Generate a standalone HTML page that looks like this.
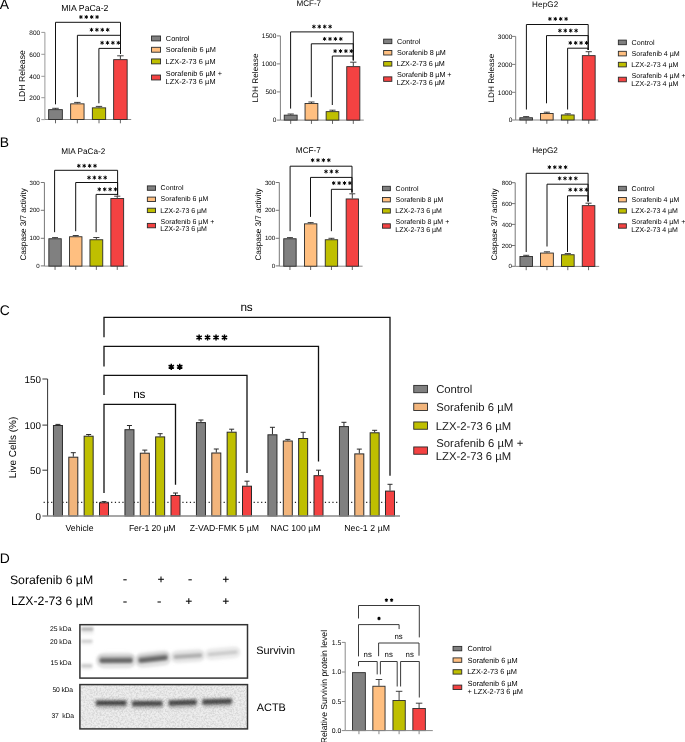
<!DOCTYPE html>
<html><head><meta charset="utf-8"><style>
html,body{margin:0;padding:0;background:#fff;width:685px;height:742px;overflow:hidden;}
svg{display:block;font-family:"Liberation Sans", sans-serif;will-change:transform;text-rendering:geometricPrecision;}
</style></head><body>
<svg width="685" height="742" viewBox="0 0 685 742">
<rect width="685" height="742" fill="#fff"/>
<defs>
<filter id="blur1" x="-50%" y="-300%" width="200%" height="700%"><feGaussianBlur stdDeviation="0.9"/></filter>
<filter id="blur2" x="-50%" y="-300%" width="200%" height="700%"><feGaussianBlur stdDeviation="1.5"/></filter>
<filter id="blur3" x="-50%" y="-300%" width="200%" height="700%"><feGaussianBlur stdDeviation="2.2"/></filter>
<filter id="noise" x="0" y="0" width="100%" height="100%"><feTurbulence type="fractalNoise" baseFrequency="0.55" numOctaves="2" seed="7"/><feColorMatrix type="matrix" values="0 0 0 0 0  0 0 0 0 0  0 0 0 0 0  3.2 0 0 0 -1.25"/></filter>
</defs>
<text x="-0.3" y="9.4" font-size="13.9" text-anchor="start" fill="#000">A</text>
<text x="-0.3" y="147.4" font-size="13.9" text-anchor="start" fill="#000">B</text>
<text x="-0.3" y="314.7" font-size="13.9" text-anchor="start" fill="#000">C</text>
<text x="-0.3" y="563.3" font-size="13.9" text-anchor="start" fill="#000">D</text>
<line x1="44.9" y1="32.4" x2="44.9" y2="119.5" stroke="#999" stroke-width="1"/>
<line x1="41.3" y1="119.6" x2="44.9" y2="119.6" stroke="#999" stroke-width="1"/>
<text x="36.52" y="121.93" font-size="6.5" text-anchor="start" fill="#000">0</text>
<line x1="41.3" y1="97.7" x2="44.9" y2="97.7" stroke="#999" stroke-width="1"/>
<text x="29.3" y="100.03" font-size="6.5" text-anchor="start" fill="#000">200</text>
<line x1="41.3" y1="76.3" x2="44.9" y2="76.3" stroke="#999" stroke-width="1"/>
<text x="29.3" y="78.63" font-size="6.5" text-anchor="start" fill="#000">400</text>
<line x1="41.3" y1="54.3" x2="44.9" y2="54.3" stroke="#999" stroke-width="1"/>
<text x="29.3" y="56.63" font-size="6.5" text-anchor="start" fill="#000">600</text>
<line x1="41.3" y1="32.4" x2="44.9" y2="32.4" stroke="#999" stroke-width="1"/>
<text x="29.3" y="34.73" font-size="6.5" text-anchor="start" fill="#000">800</text>
<line x1="44.9" y1="119.5" x2="131.2" y2="119.5" stroke="#8a8a8a" stroke-width="1"/>
<line x1="55.5" y1="119.5" x2="55.5" y2="123.3" stroke="#666" stroke-width="1"/>
<line x1="77.35" y1="119.5" x2="77.35" y2="123.3" stroke="#666" stroke-width="1"/>
<line x1="99" y1="119.5" x2="99" y2="123.3" stroke="#666" stroke-width="1"/>
<line x1="120.4" y1="119.5" x2="120.4" y2="123.3" stroke="#666" stroke-width="1"/>
<line x1="55.5" y1="109.2" x2="55.5" y2="108.3" stroke="#2a2a2a" stroke-width="0.9"/>
<line x1="52.22" y1="108.3" x2="58.78" y2="108.3" stroke="#2a2a2a" stroke-width="0.9"/>
<rect x="48.65" y="109.65" width="13.7" height="9.85" fill="#808080" stroke="#2a2a2a" stroke-width="0.9"/>
<line x1="77.35" y1="103.4" x2="77.35" y2="102.4" stroke="#2a2a2a" stroke-width="0.9"/>
<line x1="74.13" y1="102.4" x2="80.57" y2="102.4" stroke="#2a2a2a" stroke-width="0.9"/>
<rect x="70.65" y="103.85" width="13.4" height="15.65" fill="#FFBF80" stroke="#2a2a2a" stroke-width="0.9"/>
<line x1="99" y1="107.4" x2="99" y2="106.4" stroke="#2a2a2a" stroke-width="0.9"/>
<line x1="95.81" y1="106.4" x2="102.19" y2="106.4" stroke="#2a2a2a" stroke-width="0.9"/>
<rect x="92.35" y="107.85" width="13.3" height="11.65" fill="#BFBF00" stroke="#2a2a2a" stroke-width="0.9"/>
<line x1="120.4" y1="59.2" x2="120.4" y2="55.8" stroke="#2a2a2a" stroke-width="0.9"/>
<line x1="117.16" y1="55.8" x2="123.64" y2="55.8" stroke="#2a2a2a" stroke-width="0.9"/>
<rect x="113.65" y="59.65" width="13.5" height="59.85" fill="#F44242" stroke="#2a2a2a" stroke-width="0.9"/>
<path d="M55.5 104.3V22.3H120.5V53.8" stroke="#111" stroke-width="1" fill="none" stroke-linejoin="miter" stroke-linecap="butt"/>
<path d="M80.9 15.05L80.9 18.95M79.21 16.02L82.59 17.98M79.21 17.98L82.59 16.02" stroke="#000" stroke-width="0.95" fill="none"/>
<path d="M86.3 15.05L86.3 18.95M84.61 16.02L87.99 17.98M84.61 17.98L87.99 16.02" stroke="#000" stroke-width="0.95" fill="none"/>
<path d="M91.7 15.05L91.7 18.95M90.01 16.02L93.39 17.98M90.01 17.98L93.39 16.02" stroke="#000" stroke-width="0.95" fill="none"/>
<path d="M97.1 15.05L97.1 18.95M95.41 16.02L98.79 17.98M95.41 17.98L98.79 16.02" stroke="#000" stroke-width="0.95" fill="none"/>
<path d="M77.4 97.1V35.3H120.5V53.8" stroke="#111" stroke-width="1" fill="none" stroke-linejoin="miter" stroke-linecap="butt"/>
<path d="M91.5 27.85L91.5 31.75M89.81 28.82L93.19 30.78M89.81 30.78L93.19 28.82" stroke="#000" stroke-width="0.95" fill="none"/>
<path d="M96.9 27.85L96.9 31.75M95.21 28.82L98.59 30.78M95.21 30.78L98.59 28.82" stroke="#000" stroke-width="0.95" fill="none"/>
<path d="M102.3 27.85L102.3 31.75M100.61 28.82L103.99 30.78M100.61 30.78L103.99 28.82" stroke="#000" stroke-width="0.95" fill="none"/>
<path d="M107.7 27.85L107.7 31.75M106.01 28.82L109.39 30.78M106.01 30.78L109.39 28.82" stroke="#000" stroke-width="0.95" fill="none"/>
<path d="M98.9 103.3V48.4H120.5V53.8" stroke="#111" stroke-width="1" fill="none" stroke-linejoin="miter" stroke-linecap="butt"/>
<path d="M102.1 40.85L102.1 44.75M100.41 41.82L103.79 43.77M100.41 43.77L103.79 41.82" stroke="#000" stroke-width="0.95" fill="none"/>
<path d="M107.5 40.85L107.5 44.75M105.81 41.82L109.19 43.77M105.81 43.77L109.19 41.82" stroke="#000" stroke-width="0.95" fill="none"/>
<path d="M112.9 40.85L112.9 44.75M111.21 41.82L114.59 43.77M111.21 43.77L114.59 41.82" stroke="#000" stroke-width="0.95" fill="none"/>
<path d="M118.3 40.85L118.3 44.75M116.61 41.82L119.99 43.77M116.61 43.77L119.99 41.82" stroke="#000" stroke-width="0.95" fill="none"/>
<text x="61.3" y="10.9" font-size="8.7" text-anchor="start" fill="#000" textLength="47.14" lengthAdjust="spacing">MIA PaCa-2</text>
<text x="25.1" y="101.79" font-size="8.6" text-anchor="start" fill="#000" transform="rotate(-90 25.1 101.79)" textLength="51.55" lengthAdjust="spacing">LDH Release</text>
<line x1="280.4" y1="35.9" x2="280.4" y2="120.1" stroke="#808080" stroke-width="1"/>
<line x1="276.8" y1="120.1" x2="280.4" y2="120.1" stroke="#808080" stroke-width="1"/>
<text x="272.72" y="122.43" font-size="6.5" text-anchor="start" fill="#000">0</text>
<line x1="276.8" y1="91.9" x2="280.4" y2="91.9" stroke="#808080" stroke-width="1"/>
<text x="265.51" y="94.23" font-size="6.5" text-anchor="start" fill="#000">500</text>
<line x1="276.8" y1="63.9" x2="280.4" y2="63.9" stroke="#808080" stroke-width="1"/>
<text x="261.87" y="66.23" font-size="6.5" text-anchor="start" fill="#000">1000</text>
<line x1="276.8" y1="35.9" x2="280.4" y2="35.9" stroke="#808080" stroke-width="1"/>
<text x="261.87" y="38.23" font-size="6.5" text-anchor="start" fill="#000">1500</text>
<line x1="280.4" y1="120.1" x2="363.8" y2="120.1" stroke="#8a8a8a" stroke-width="1"/>
<line x1="290.7" y1="120.1" x2="290.7" y2="123.9" stroke="#666" stroke-width="1"/>
<line x1="311.45" y1="120.1" x2="311.45" y2="123.9" stroke="#666" stroke-width="1"/>
<line x1="332.5" y1="120.1" x2="332.5" y2="123.9" stroke="#666" stroke-width="1"/>
<line x1="353.3" y1="120.1" x2="353.3" y2="123.9" stroke="#666" stroke-width="1"/>
<line x1="290.7" y1="114.7" x2="290.7" y2="114" stroke="#2a2a2a" stroke-width="0.9"/>
<line x1="287.6" y1="114" x2="293.81" y2="114" stroke="#2a2a2a" stroke-width="0.9"/>
<rect x="284.25" y="115.15" width="12.9" height="4.95" fill="#808080" stroke="#2a2a2a" stroke-width="0.9"/>
<line x1="311.45" y1="103" x2="311.45" y2="102" stroke="#2a2a2a" stroke-width="0.9"/>
<line x1="308.37" y1="102" x2="314.53" y2="102" stroke="#2a2a2a" stroke-width="0.9"/>
<rect x="305.05" y="103.45" width="12.8" height="16.65" fill="#FFBF80" stroke="#2a2a2a" stroke-width="0.9"/>
<line x1="332.5" y1="111.2" x2="332.5" y2="110.2" stroke="#2a2a2a" stroke-width="0.9"/>
<line x1="329.44" y1="110.2" x2="335.56" y2="110.2" stroke="#2a2a2a" stroke-width="0.9"/>
<rect x="326.15" y="111.65" width="12.7" height="8.45" fill="#BFBF00" stroke="#2a2a2a" stroke-width="0.9"/>
<line x1="353.3" y1="66.2" x2="353.3" y2="62.2" stroke="#2a2a2a" stroke-width="0.9"/>
<line x1="350.15" y1="62.2" x2="356.45" y2="62.2" stroke="#2a2a2a" stroke-width="0.9"/>
<rect x="346.75" y="66.65" width="13.1" height="53.45" fill="#F44242" stroke="#2a2a2a" stroke-width="0.9"/>
<path d="M290.6 108.6V31.9H353.3V60.4" stroke="#111" stroke-width="1" fill="none" stroke-linejoin="miter" stroke-linecap="butt"/>
<path d="M313.9 24.65L313.9 28.55M312.21 25.62L315.59 27.58M312.21 27.58L315.59 25.62" stroke="#000" stroke-width="0.95" fill="none"/>
<path d="M319.3 24.65L319.3 28.55M317.61 25.62L320.99 27.58M317.61 27.58L320.99 25.62" stroke="#000" stroke-width="0.95" fill="none"/>
<path d="M324.7 24.65L324.7 28.55M323.01 25.62L326.39 27.58M323.01 27.58L326.39 25.62" stroke="#000" stroke-width="0.95" fill="none"/>
<path d="M330.1 24.65L330.1 28.55M328.41 25.62L331.79 27.58M328.41 27.58L331.79 25.62" stroke="#000" stroke-width="0.95" fill="none"/>
<path d="M311.3 97.2V43.8H353.3V60.4" stroke="#111" stroke-width="1" fill="none" stroke-linejoin="miter" stroke-linecap="butt"/>
<path d="M324.6 36.95L324.6 40.85M322.91 37.92L326.29 39.88M322.91 39.88L326.29 37.92" stroke="#000" stroke-width="0.95" fill="none"/>
<path d="M330 36.95L330 40.85M328.31 37.92L331.69 39.88M328.31 39.88L331.69 37.92" stroke="#000" stroke-width="0.95" fill="none"/>
<path d="M335.4 36.95L335.4 40.85M333.71 37.92L337.09 39.88M333.71 39.88L337.09 37.92" stroke="#000" stroke-width="0.95" fill="none"/>
<path d="M340.8 36.95L340.8 40.85M339.11 37.92L342.49 39.88M339.11 39.88L342.49 37.92" stroke="#000" stroke-width="0.95" fill="none"/>
<path d="M332.3 105V56H353.3V60.4" stroke="#111" stroke-width="1" fill="none" stroke-linejoin="miter" stroke-linecap="butt"/>
<path d="M335.1 49.15L335.1 53.05M333.41 50.12L336.79 52.08M333.41 52.08L336.79 50.12" stroke="#000" stroke-width="0.95" fill="none"/>
<path d="M340.5 49.15L340.5 53.05M338.81 50.12L342.19 52.08M338.81 52.08L342.19 50.12" stroke="#000" stroke-width="0.95" fill="none"/>
<path d="M345.9 49.15L345.9 53.05M344.21 50.12L347.59 52.08M344.21 52.08L347.59 50.12" stroke="#000" stroke-width="0.95" fill="none"/>
<path d="M351.3 49.15L351.3 53.05M349.61 50.12L352.99 52.08M349.61 52.08L352.99 50.12" stroke="#000" stroke-width="0.95" fill="none"/>
<text x="296.45" y="6" font-size="8.1" text-anchor="start" fill="#000" textLength="24.66" lengthAdjust="spacing">MCF-7</text>
<text x="258.4" y="102.55" font-size="8.1" text-anchor="start" fill="#000" transform="rotate(-90 258.4 102.55)" textLength="48.99" lengthAdjust="spacing">LDH Release</text>
<line x1="515.7" y1="36.4" x2="515.7" y2="120" stroke="#808080" stroke-width="1"/>
<line x1="512.1" y1="120" x2="515.7" y2="120" stroke="#808080" stroke-width="1"/>
<text x="508.72" y="122.33" font-size="6.5" text-anchor="start" fill="#000">0</text>
<line x1="512.1" y1="92.3" x2="515.7" y2="92.3" stroke="#808080" stroke-width="1"/>
<text x="497.87" y="94.63" font-size="6.5" text-anchor="start" fill="#000">1000</text>
<line x1="512.1" y1="64.4" x2="515.7" y2="64.4" stroke="#808080" stroke-width="1"/>
<text x="497.87" y="66.73" font-size="6.5" text-anchor="start" fill="#000">2000</text>
<line x1="512.1" y1="36.4" x2="515.7" y2="36.4" stroke="#808080" stroke-width="1"/>
<text x="497.87" y="38.73" font-size="6.5" text-anchor="start" fill="#000">3000</text>
<line x1="515.7" y1="120" x2="598.2" y2="120" stroke="#8a8a8a" stroke-width="1"/>
<line x1="526.15" y1="120" x2="526.15" y2="123.8" stroke="#666" stroke-width="1"/>
<line x1="546.85" y1="120" x2="546.85" y2="123.8" stroke="#666" stroke-width="1"/>
<line x1="567.75" y1="120" x2="567.75" y2="123.8" stroke="#666" stroke-width="1"/>
<line x1="588.75" y1="120" x2="588.75" y2="123.8" stroke="#666" stroke-width="1"/>
<line x1="526.15" y1="117.3" x2="526.15" y2="116.6" stroke="#2a2a2a" stroke-width="0.9"/>
<line x1="523.11" y1="116.6" x2="529.19" y2="116.6" stroke="#2a2a2a" stroke-width="0.9"/>
<rect x="519.85" y="117.75" width="12.6" height="2.25" fill="#808080" stroke="#2a2a2a" stroke-width="0.9"/>
<line x1="546.85" y1="113" x2="546.85" y2="112.2" stroke="#2a2a2a" stroke-width="0.9"/>
<line x1="543.81" y1="112.2" x2="549.89" y2="112.2" stroke="#2a2a2a" stroke-width="0.9"/>
<rect x="540.55" y="113.45" width="12.6" height="6.55" fill="#FFBF80" stroke="#2a2a2a" stroke-width="0.9"/>
<line x1="567.75" y1="114.5" x2="567.75" y2="113.8" stroke="#2a2a2a" stroke-width="0.9"/>
<line x1="564.67" y1="113.8" x2="570.83" y2="113.8" stroke="#2a2a2a" stroke-width="0.9"/>
<rect x="561.35" y="114.95" width="12.8" height="5.05" fill="#BFBF00" stroke="#2a2a2a" stroke-width="0.9"/>
<line x1="588.75" y1="55.2" x2="588.75" y2="51.7" stroke="#2a2a2a" stroke-width="0.9"/>
<line x1="585.67" y1="51.7" x2="591.83" y2="51.7" stroke="#2a2a2a" stroke-width="0.9"/>
<rect x="582.35" y="55.65" width="12.8" height="64.35" fill="#F44242" stroke="#2a2a2a" stroke-width="0.9"/>
<path d="M526.4 109.5V24.5H588.2V50" stroke="#111" stroke-width="1" fill="none" stroke-linejoin="miter" stroke-linecap="butt"/>
<path d="M549.9 16.95L549.9 20.85M548.21 17.92L551.59 19.88M548.21 19.88L551.59 17.92" stroke="#000" stroke-width="0.95" fill="none"/>
<path d="M555.3 16.95L555.3 20.85M553.61 17.92L556.99 19.88M553.61 19.88L556.99 17.92" stroke="#000" stroke-width="0.95" fill="none"/>
<path d="M560.7 16.95L560.7 20.85M559.01 17.92L562.39 19.88M559.01 19.88L562.39 17.92" stroke="#000" stroke-width="0.95" fill="none"/>
<path d="M566.1 16.95L566.1 20.85M564.41 17.92L567.79 19.88M564.41 19.88L567.79 17.92" stroke="#000" stroke-width="0.95" fill="none"/>
<path d="M546.5 103.3V35.6H588.2V50" stroke="#111" stroke-width="1" fill="none" stroke-linejoin="miter" stroke-linecap="butt"/>
<path d="M559.9 28.65L559.9 32.55M558.21 29.62L561.59 31.58M558.21 31.58L561.59 29.62" stroke="#000" stroke-width="0.95" fill="none"/>
<path d="M565.3 28.65L565.3 32.55M563.61 29.62L566.99 31.58M563.61 31.58L566.99 29.62" stroke="#000" stroke-width="0.95" fill="none"/>
<path d="M570.7 28.65L570.7 32.55M569.01 29.62L572.39 31.58M569.01 31.58L572.39 29.62" stroke="#000" stroke-width="0.95" fill="none"/>
<path d="M576.1 28.65L576.1 32.55M574.41 29.62L577.79 31.58M574.41 31.58L577.79 29.62" stroke="#000" stroke-width="0.95" fill="none"/>
<path d="M567.6 109.5V48.2H588.2V50" stroke="#111" stroke-width="1" fill="none" stroke-linejoin="miter" stroke-linecap="butt"/>
<path d="M570.3 40.95L570.3 44.85M568.61 41.92L571.99 43.88M568.61 43.88L571.99 41.92" stroke="#000" stroke-width="0.95" fill="none"/>
<path d="M575.7 40.95L575.7 44.85M574.01 41.92L577.39 43.88M574.01 43.88L577.39 41.92" stroke="#000" stroke-width="0.95" fill="none"/>
<path d="M581.1 40.95L581.1 44.85M579.41 41.92L582.79 43.88M579.41 43.88L582.79 41.92" stroke="#000" stroke-width="0.95" fill="none"/>
<path d="M586.5 40.95L586.5 44.85M584.81 41.92L588.19 43.88M584.81 43.88L588.19 41.92" stroke="#000" stroke-width="0.95" fill="none"/>
<text x="532.05" y="6.6" font-size="8.1" text-anchor="start" fill="#000" textLength="26.18" lengthAdjust="spacing">HepG2</text>
<text x="494.5" y="102.55" font-size="8.1" text-anchor="start" fill="#000" transform="rotate(-90 494.5 102.55)" textLength="48.79" lengthAdjust="spacing">LDH Release</text>
<rect x="151.55" y="36" width="9" height="4.9" fill="#808080" stroke="#2a2a2a" stroke-width="0.9"/>
<rect x="151.55" y="47.3" width="9" height="4.9" fill="#FFBF80" stroke="#2a2a2a" stroke-width="0.9"/>
<rect x="151.55" y="58.95" width="9" height="4.9" fill="#BFBF00" stroke="#2a2a2a" stroke-width="0.9"/>
<rect x="151.55" y="75.05" width="9" height="4.9" fill="#F44242" stroke="#2a2a2a" stroke-width="0.9"/>
<text x="165.83" y="40.9" font-size="7.35" text-anchor="start" fill="#000" textLength="23.67" lengthAdjust="spacing">Control</text>
<text x="165.87" y="52.2" font-size="7.35" text-anchor="start" fill="#000" textLength="50.03" lengthAdjust="spacing">Sorafenib 6 µM</text>
<text x="165.61" y="63.9" font-size="7.35" text-anchor="start" fill="#000" textLength="49.91" lengthAdjust="spacing">LZX-2-73 6 µM</text>
<text x="165.87" y="75.7" font-size="7.35" text-anchor="start" fill="#000" textLength="56.19" lengthAdjust="spacing">Sorafenib 6 µM +</text>
<text x="165.61" y="83.6" font-size="7.35" text-anchor="start" fill="#000" textLength="49.91" lengthAdjust="spacing">LZX-2-73 6 µM</text>
<rect x="383.65" y="39.15" width="8.2" height="4.5" fill="#808080" stroke="#2a2a2a" stroke-width="0.9"/>
<rect x="383.65" y="50.5" width="8.2" height="4.5" fill="#FFBF80" stroke="#2a2a2a" stroke-width="0.9"/>
<rect x="383.65" y="61.6" width="8.2" height="4.5" fill="#BFBF00" stroke="#2a2a2a" stroke-width="0.9"/>
<rect x="383.65" y="76.85" width="8.2" height="4.5" fill="#F44242" stroke="#2a2a2a" stroke-width="0.9"/>
<text x="396.94" y="43.6" font-size="7.2" text-anchor="start" fill="#000" textLength="23.46" lengthAdjust="spacing">Control</text>
<text x="396.98" y="55" font-size="7.2" text-anchor="start" fill="#000" textLength="48.81" lengthAdjust="spacing">Sorafenib 8 µM</text>
<text x="396.72" y="66.1" font-size="7.2" text-anchor="start" fill="#000" textLength="48.09" lengthAdjust="spacing">LZX-2-73 6 µM</text>
<text x="396.98" y="77.2" font-size="7.2" text-anchor="start" fill="#000" textLength="54.57" lengthAdjust="spacing">Sorafenib 8 µM +</text>
<text x="396.72" y="85.2" font-size="7.2" text-anchor="start" fill="#000" textLength="48.09" lengthAdjust="spacing">LZX-2-73 6 µM</text>
<rect x="618.35" y="40.1" width="8" height="4.6" fill="#808080" stroke="#2a2a2a" stroke-width="0.9"/>
<rect x="618.35" y="51.3" width="8" height="4.6" fill="#FFBF80" stroke="#2a2a2a" stroke-width="0.9"/>
<rect x="618.35" y="62.3" width="8" height="4.6" fill="#BFBF00" stroke="#2a2a2a" stroke-width="0.9"/>
<rect x="618.35" y="77.2" width="8" height="4.6" fill="#F44242" stroke="#2a2a2a" stroke-width="0.9"/>
<text x="631.54" y="44.7" font-size="7.1" text-anchor="start" fill="#000" textLength="23.04" lengthAdjust="spacing">Control</text>
<text x="631.58" y="55.7" font-size="7.1" text-anchor="start" fill="#000" textLength="48.2" lengthAdjust="spacing">Sorafenib 4 µM</text>
<text x="631.33" y="66.7" font-size="7.1" text-anchor="start" fill="#000" textLength="47.07" lengthAdjust="spacing">LZX-2-73 4 µM</text>
<text x="631.58" y="77.7" font-size="7.1" text-anchor="start" fill="#000" textLength="54.07" lengthAdjust="spacing">Sorafenib 4 µM +</text>
<text x="631.33" y="85.6" font-size="7.1" text-anchor="start" fill="#000" textLength="47.07" lengthAdjust="spacing">LZX-2-73 4 µM</text>
<line x1="44.4" y1="182.5" x2="44.4" y2="266.1" stroke="#777" stroke-width="1"/>
<line x1="40.8" y1="265.9" x2="44.4" y2="265.9" stroke="#777" stroke-width="1"/>
<text x="36.33" y="268.09" font-size="6.1" text-anchor="start" fill="#000">0</text>
<line x1="40.8" y1="238.3" x2="44.4" y2="238.3" stroke="#777" stroke-width="1"/>
<text x="29.56" y="240.49" font-size="6.1" text-anchor="start" fill="#000">100</text>
<line x1="40.8" y1="210.3" x2="44.4" y2="210.3" stroke="#777" stroke-width="1"/>
<text x="29.56" y="212.49" font-size="6.1" text-anchor="start" fill="#000">200</text>
<line x1="40.8" y1="182.5" x2="44.4" y2="182.5" stroke="#777" stroke-width="1"/>
<text x="29.56" y="184.69" font-size="6.1" text-anchor="start" fill="#000">300</text>
<line x1="44.4" y1="266.1" x2="127.8" y2="266.1" stroke="#8a8a8a" stroke-width="1"/>
<line x1="55.05" y1="266.1" x2="55.05" y2="269.9" stroke="#666" stroke-width="1"/>
<line x1="75.75" y1="266.1" x2="75.75" y2="269.9" stroke="#666" stroke-width="1"/>
<line x1="96.35" y1="266.1" x2="96.35" y2="269.9" stroke="#666" stroke-width="1"/>
<line x1="117.25" y1="266.1" x2="117.25" y2="269.9" stroke="#666" stroke-width="1"/>
<line x1="55.05" y1="238.3" x2="55.05" y2="237.6" stroke="#2a2a2a" stroke-width="0.9"/>
<line x1="52.06" y1="237.6" x2="58.04" y2="237.6" stroke="#2a2a2a" stroke-width="0.9"/>
<rect x="48.85" y="238.75" width="12.4" height="27.35" fill="#808080" stroke="#2a2a2a" stroke-width="0.9"/>
<line x1="75.75" y1="236.3" x2="75.75" y2="235.5" stroke="#2a2a2a" stroke-width="0.9"/>
<line x1="72.76" y1="235.5" x2="78.74" y2="235.5" stroke="#2a2a2a" stroke-width="0.9"/>
<rect x="69.55" y="236.75" width="12.4" height="29.35" fill="#FFBF80" stroke="#2a2a2a" stroke-width="0.9"/>
<line x1="96.35" y1="239.3" x2="96.35" y2="237.5" stroke="#2a2a2a" stroke-width="0.9"/>
<line x1="93.27" y1="237.5" x2="99.43" y2="237.5" stroke="#2a2a2a" stroke-width="0.9"/>
<rect x="89.95" y="239.75" width="12.8" height="26.35" fill="#BFBF00" stroke="#2a2a2a" stroke-width="0.9"/>
<line x1="117.25" y1="198.1" x2="117.25" y2="196.2" stroke="#2a2a2a" stroke-width="0.9"/>
<line x1="114.17" y1="196.2" x2="120.33" y2="196.2" stroke="#2a2a2a" stroke-width="0.9"/>
<rect x="110.85" y="198.55" width="12.8" height="67.55" fill="#F44242" stroke="#2a2a2a" stroke-width="0.9"/>
<path d="M54.6 232.2V170.3H117.6V195.2" stroke="#111" stroke-width="1" fill="none" stroke-linejoin="miter" stroke-linecap="butt"/>
<path d="M78.8 163.85L78.8 167.75M77.11 164.83L80.49 166.78M77.11 166.78L80.49 164.83" stroke="#000" stroke-width="0.95" fill="none"/>
<path d="M84.2 163.85L84.2 167.75M82.51 164.83L85.89 166.78M82.51 166.78L85.89 164.83" stroke="#000" stroke-width="0.95" fill="none"/>
<path d="M89.6 163.85L89.6 167.75M87.91 164.83L91.29 166.78M87.91 166.78L91.29 164.83" stroke="#000" stroke-width="0.95" fill="none"/>
<path d="M95 163.85L95 167.75M93.31 164.83L96.69 166.78M93.31 166.78L96.69 164.83" stroke="#000" stroke-width="0.95" fill="none"/>
<path d="M75.7 231.2V182.5H117.6V195.2" stroke="#111" stroke-width="1" fill="none" stroke-linejoin="miter" stroke-linecap="butt"/>
<path d="M89 175.65L89 179.55M87.31 176.62L90.69 178.57M87.31 178.57L90.69 176.62" stroke="#000" stroke-width="0.95" fill="none"/>
<path d="M94.4 175.65L94.4 179.55M92.71 176.62L96.09 178.57M92.71 178.57L96.09 176.62" stroke="#000" stroke-width="0.95" fill="none"/>
<path d="M99.8 175.65L99.8 179.55M98.11 176.62L101.49 178.57M98.11 178.57L101.49 176.62" stroke="#000" stroke-width="0.95" fill="none"/>
<path d="M105.2 175.65L105.2 179.55M103.51 176.62L106.89 178.57M103.51 178.57L106.89 176.62" stroke="#000" stroke-width="0.95" fill="none"/>
<path d="M96.1 232.2V194.4H117.6V195.2" stroke="#111" stroke-width="1" fill="none" stroke-linejoin="miter" stroke-linecap="butt"/>
<path d="M99.3 187.35L99.3 191.25M97.61 188.33L100.99 190.28M97.61 190.28L100.99 188.33" stroke="#000" stroke-width="0.95" fill="none"/>
<path d="M104.7 187.35L104.7 191.25M103.01 188.33L106.39 190.28M103.01 190.28L106.39 188.33" stroke="#000" stroke-width="0.95" fill="none"/>
<path d="M110.1 187.35L110.1 191.25M108.41 188.33L111.79 190.28M108.41 190.28L111.79 188.33" stroke="#000" stroke-width="0.95" fill="none"/>
<path d="M115.5 187.35L115.5 191.25M113.81 188.33L117.19 190.28M113.81 190.28L117.19 188.33" stroke="#000" stroke-width="0.95" fill="none"/>
<text x="61.14" y="153.8" font-size="8.2" text-anchor="start" fill="#000" textLength="44.18" lengthAdjust="spacing">MIA PaCa-2</text>
<text x="26.1" y="260.51" font-size="8.15" text-anchor="start" fill="#000" transform="rotate(-90 26.1 260.51)" textLength="72.4" lengthAdjust="spacing">Caspase 3/7 activity</text>
<line x1="279.3" y1="182.5" x2="279.3" y2="266.2" stroke="#777" stroke-width="1"/>
<line x1="275.7" y1="265.9" x2="279.3" y2="265.9" stroke="#777" stroke-width="1"/>
<text x="271.73" y="268.09" font-size="6.1" text-anchor="start" fill="#000">0</text>
<line x1="275.7" y1="238.3" x2="279.3" y2="238.3" stroke="#777" stroke-width="1"/>
<text x="264.96" y="240.49" font-size="6.1" text-anchor="start" fill="#000">100</text>
<line x1="275.7" y1="210.3" x2="279.3" y2="210.3" stroke="#777" stroke-width="1"/>
<text x="264.96" y="212.49" font-size="6.1" text-anchor="start" fill="#000">200</text>
<line x1="275.7" y1="182.5" x2="279.3" y2="182.5" stroke="#777" stroke-width="1"/>
<text x="264.96" y="184.69" font-size="6.1" text-anchor="start" fill="#000">300</text>
<line x1="279.3" y1="266.2" x2="362.6" y2="266.2" stroke="#8a8a8a" stroke-width="1"/>
<line x1="289.95" y1="266.2" x2="289.95" y2="270" stroke="#666" stroke-width="1"/>
<line x1="310.65" y1="266.2" x2="310.65" y2="270" stroke="#666" stroke-width="1"/>
<line x1="331.45" y1="266.2" x2="331.45" y2="270" stroke="#666" stroke-width="1"/>
<line x1="352.3" y1="266.2" x2="352.3" y2="270" stroke="#666" stroke-width="1"/>
<line x1="289.95" y1="238.3" x2="289.95" y2="237.6" stroke="#2a2a2a" stroke-width="0.9"/>
<line x1="286.96" y1="237.6" x2="292.94" y2="237.6" stroke="#2a2a2a" stroke-width="0.9"/>
<rect x="283.75" y="238.75" width="12.4" height="27.45" fill="#808080" stroke="#2a2a2a" stroke-width="0.9"/>
<line x1="310.65" y1="223.4" x2="310.65" y2="222.6" stroke="#2a2a2a" stroke-width="0.9"/>
<line x1="307.66" y1="222.6" x2="313.64" y2="222.6" stroke="#2a2a2a" stroke-width="0.9"/>
<rect x="304.45" y="223.85" width="12.4" height="42.35" fill="#FFBF80" stroke="#2a2a2a" stroke-width="0.9"/>
<line x1="331.45" y1="239.3" x2="331.45" y2="238.3" stroke="#2a2a2a" stroke-width="0.9"/>
<line x1="328.46" y1="238.3" x2="334.44" y2="238.3" stroke="#2a2a2a" stroke-width="0.9"/>
<rect x="325.25" y="239.75" width="12.4" height="26.45" fill="#BFBF00" stroke="#2a2a2a" stroke-width="0.9"/>
<line x1="352.3" y1="198.5" x2="352.3" y2="193.8" stroke="#2a2a2a" stroke-width="0.9"/>
<line x1="349.33" y1="193.8" x2="355.27" y2="193.8" stroke="#2a2a2a" stroke-width="0.9"/>
<rect x="346.15" y="198.95" width="12.3" height="67.25" fill="#F44242" stroke="#2a2a2a" stroke-width="0.9"/>
<path d="M290.1 231.2V166.2H352V192.5" stroke="#111" stroke-width="1" fill="none" stroke-linejoin="miter" stroke-linecap="butt"/>
<path d="M312.6 158.25L312.6 162.15M310.91 159.22L314.29 161.17M310.91 161.17L314.29 159.22" stroke="#000" stroke-width="0.95" fill="none"/>
<path d="M318 158.25L318 162.15M316.31 159.22L319.69 161.17M316.31 161.17L319.69 159.22" stroke="#000" stroke-width="0.95" fill="none"/>
<path d="M323.4 158.25L323.4 162.15M321.71 159.22L325.09 161.17M321.71 161.17L325.09 159.22" stroke="#000" stroke-width="0.95" fill="none"/>
<path d="M328.8 158.25L328.8 162.15M327.11 159.22L330.49 161.17M327.11 161.17L330.49 159.22" stroke="#000" stroke-width="0.95" fill="none"/>
<path d="M310.5 216.9V177.4H352V192.5" stroke="#111" stroke-width="1" fill="none" stroke-linejoin="miter" stroke-linecap="butt"/>
<path d="M326 169.55L326 173.45M324.31 170.53L327.69 172.47M324.31 172.47L327.69 170.53" stroke="#000" stroke-width="0.95" fill="none"/>
<path d="M331.4 169.55L331.4 173.45M329.71 170.53L333.09 172.47M329.71 172.47L333.09 170.53" stroke="#000" stroke-width="0.95" fill="none"/>
<path d="M336.8 169.55L336.8 173.45M335.11 170.53L338.49 172.47M335.11 172.47L338.49 170.53" stroke="#000" stroke-width="0.95" fill="none"/>
<path d="M331.4 231.2V189.3H352V192.5" stroke="#111" stroke-width="1" fill="none" stroke-linejoin="miter" stroke-linecap="butt"/>
<path d="M333.7 181.15L333.7 185.05M332.01 182.12L335.39 184.07M332.01 184.07L335.39 182.12" stroke="#000" stroke-width="0.95" fill="none"/>
<path d="M339.1 181.15L339.1 185.05M337.41 182.12L340.79 184.07M337.41 184.07L340.79 182.12" stroke="#000" stroke-width="0.95" fill="none"/>
<path d="M344.5 181.15L344.5 185.05M342.81 182.12L346.19 184.07M342.81 184.07L346.19 182.12" stroke="#000" stroke-width="0.95" fill="none"/>
<path d="M349.9 181.15L349.9 185.05M348.21 182.12L351.59 184.07M348.21 184.07L351.59 182.12" stroke="#000" stroke-width="0.95" fill="none"/>
<text x="295.84" y="153" font-size="8.2" text-anchor="start" fill="#000" textLength="24.97" lengthAdjust="spacing">MCF-7</text>
<text x="261" y="260.61" font-size="8.15" text-anchor="start" fill="#000" transform="rotate(-90 261 260.61)" textLength="72.3" lengthAdjust="spacing">Caspase 3/7 activity</text>
<line x1="515.2" y1="182.7" x2="515.2" y2="266.4" stroke="#777" stroke-width="1"/>
<line x1="511.6" y1="266.3" x2="515.2" y2="266.3" stroke="#777" stroke-width="1"/>
<text x="508.53" y="268.49" font-size="6.1" text-anchor="start" fill="#000">0</text>
<line x1="511.6" y1="245.5" x2="515.2" y2="245.5" stroke="#777" stroke-width="1"/>
<text x="501.76" y="247.69" font-size="6.1" text-anchor="start" fill="#000">200</text>
<line x1="511.6" y1="224.4" x2="515.2" y2="224.4" stroke="#777" stroke-width="1"/>
<text x="501.76" y="226.59" font-size="6.1" text-anchor="start" fill="#000">400</text>
<line x1="511.6" y1="203.6" x2="515.2" y2="203.6" stroke="#777" stroke-width="1"/>
<text x="501.76" y="205.79" font-size="6.1" text-anchor="start" fill="#000">600</text>
<line x1="511.6" y1="182.7" x2="515.2" y2="182.7" stroke="#777" stroke-width="1"/>
<text x="501.76" y="184.89" font-size="6.1" text-anchor="start" fill="#000">800</text>
<line x1="515.2" y1="266.4" x2="599.2" y2="266.4" stroke="#8a8a8a" stroke-width="1"/>
<line x1="526.2" y1="266.4" x2="526.2" y2="270.2" stroke="#666" stroke-width="1"/>
<line x1="546.95" y1="266.4" x2="546.95" y2="270.2" stroke="#666" stroke-width="1"/>
<line x1="567.8" y1="266.4" x2="567.8" y2="270.2" stroke="#666" stroke-width="1"/>
<line x1="588.55" y1="266.4" x2="588.55" y2="270.2" stroke="#666" stroke-width="1"/>
<line x1="526.2" y1="256.1" x2="526.2" y2="255.3" stroke="#2a2a2a" stroke-width="0.9"/>
<line x1="523.19" y1="255.3" x2="529.22" y2="255.3" stroke="#2a2a2a" stroke-width="0.9"/>
<rect x="519.95" y="256.55" width="12.5" height="9.85" fill="#808080" stroke="#2a2a2a" stroke-width="0.9"/>
<line x1="546.95" y1="252.6" x2="546.95" y2="251.8" stroke="#2a2a2a" stroke-width="0.9"/>
<line x1="543.87" y1="251.8" x2="550.03" y2="251.8" stroke="#2a2a2a" stroke-width="0.9"/>
<rect x="540.55" y="253.05" width="12.8" height="13.35" fill="#FFBF80" stroke="#2a2a2a" stroke-width="0.9"/>
<line x1="567.8" y1="254.3" x2="567.8" y2="253.6" stroke="#2a2a2a" stroke-width="0.9"/>
<line x1="564.74" y1="253.6" x2="570.86" y2="253.6" stroke="#2a2a2a" stroke-width="0.9"/>
<rect x="561.45" y="254.75" width="12.7" height="11.65" fill="#BFBF00" stroke="#2a2a2a" stroke-width="0.9"/>
<line x1="588.55" y1="205.2" x2="588.55" y2="203.2" stroke="#2a2a2a" stroke-width="0.9"/>
<line x1="585.51" y1="203.2" x2="591.59" y2="203.2" stroke="#2a2a2a" stroke-width="0.9"/>
<rect x="582.25" y="205.65" width="12.6" height="60.75" fill="#F44242" stroke="#2a2a2a" stroke-width="0.9"/>
<path d="M526.2 252V173.3H588.1V201.5" stroke="#111" stroke-width="1" fill="none" stroke-linejoin="miter" stroke-linecap="butt"/>
<path d="M549.4 165.25L549.4 169.15M547.71 166.22L551.09 168.17M547.71 168.17L551.09 166.22" stroke="#000" stroke-width="0.95" fill="none"/>
<path d="M554.8 165.25L554.8 169.15M553.11 166.22L556.49 168.17M553.11 168.17L556.49 166.22" stroke="#000" stroke-width="0.95" fill="none"/>
<path d="M560.2 165.25L560.2 169.15M558.51 166.22L561.89 168.17M558.51 168.17L561.89 166.22" stroke="#000" stroke-width="0.95" fill="none"/>
<path d="M565.6 165.25L565.6 169.15M563.91 166.22L567.29 168.17M563.91 168.17L567.29 166.22" stroke="#000" stroke-width="0.95" fill="none"/>
<path d="M547 246.5V184.2H588.1V201.5" stroke="#111" stroke-width="1" fill="none" stroke-linejoin="miter" stroke-linecap="butt"/>
<path d="M559.6 176.45L559.6 180.35M557.91 177.43L561.29 179.38M557.91 179.38L561.29 177.43" stroke="#000" stroke-width="0.95" fill="none"/>
<path d="M565 176.45L565 180.35M563.31 177.43L566.69 179.38M563.31 179.38L566.69 177.43" stroke="#000" stroke-width="0.95" fill="none"/>
<path d="M570.4 176.45L570.4 180.35M568.71 177.43L572.09 179.38M568.71 179.38L572.09 177.43" stroke="#000" stroke-width="0.95" fill="none"/>
<path d="M575.8 176.45L575.8 180.35M574.11 177.43L577.49 179.38M574.11 179.38L577.49 177.43" stroke="#000" stroke-width="0.95" fill="none"/>
<path d="M567.5 252V195.8H588.1V201.5" stroke="#111" stroke-width="1" fill="none" stroke-linejoin="miter" stroke-linecap="butt"/>
<path d="M570.2 187.75L570.2 191.65M568.51 188.72L571.89 190.67M568.51 190.67L571.89 188.72" stroke="#000" stroke-width="0.95" fill="none"/>
<path d="M575.6 187.75L575.6 191.65M573.91 188.72L577.29 190.67M573.91 190.67L577.29 188.72" stroke="#000" stroke-width="0.95" fill="none"/>
<path d="M581 187.75L581 191.65M579.31 188.72L582.69 190.67M579.31 190.67L582.69 188.72" stroke="#000" stroke-width="0.95" fill="none"/>
<path d="M586.4 187.75L586.4 191.65M584.71 188.72L588.09 190.67M584.71 190.67L588.09 188.72" stroke="#000" stroke-width="0.95" fill="none"/>
<text x="532.14" y="153" font-size="8.2" text-anchor="start" fill="#000" textLength="25.79" lengthAdjust="spacing">HepG2</text>
<text x="497.1" y="260.61" font-size="8.15" text-anchor="start" fill="#000" transform="rotate(-90 497.1 260.61)" textLength="72.3" lengthAdjust="spacing">Caspase 3/7 activity</text>
<rect x="147.35" y="185.9" width="8.2" height="4.4" fill="#808080" stroke="#2a2a2a" stroke-width="0.9"/>
<rect x="147.35" y="197.1" width="8.2" height="4.4" fill="#FFBF80" stroke="#2a2a2a" stroke-width="0.9"/>
<rect x="147.35" y="208.2" width="8.2" height="4.4" fill="#BFBF00" stroke="#2a2a2a" stroke-width="0.9"/>
<rect x="147.35" y="223.4" width="8.2" height="4.4" fill="#F44242" stroke="#2a2a2a" stroke-width="0.9"/>
<text x="160.55" y="190.4" font-size="7" text-anchor="start" fill="#000" textLength="23.03" lengthAdjust="spacing">Control</text>
<text x="160.59" y="201.4" font-size="7" text-anchor="start" fill="#000" textLength="47.79" lengthAdjust="spacing">Sorafenib 6 µM</text>
<text x="160.34" y="212.5" font-size="7" text-anchor="start" fill="#000" textLength="46.55" lengthAdjust="spacing">LZX-2-73 6 µM</text>
<text x="160.59" y="223.7" font-size="7" text-anchor="start" fill="#000" textLength="53.66" lengthAdjust="spacing">Sorafenib 6 µM +</text>
<text x="160.34" y="231.1" font-size="7" text-anchor="start" fill="#000" textLength="46.55" lengthAdjust="spacing">LZX-2-73 6 µM</text>
<rect x="382.55" y="186.3" width="7.8" height="4.4" fill="#808080" stroke="#2a2a2a" stroke-width="0.9"/>
<rect x="382.55" y="197.5" width="7.8" height="4.4" fill="#FFBF80" stroke="#2a2a2a" stroke-width="0.9"/>
<rect x="382.55" y="208.7" width="7.8" height="4.4" fill="#BFBF00" stroke="#2a2a2a" stroke-width="0.9"/>
<rect x="382.55" y="223.8" width="7.8" height="4.4" fill="#F44242" stroke="#2a2a2a" stroke-width="0.9"/>
<text x="395.55" y="190.7" font-size="7" text-anchor="start" fill="#000" textLength="23.03" lengthAdjust="spacing">Control</text>
<text x="395.58" y="201.6" font-size="7" text-anchor="start" fill="#000" textLength="47.79" lengthAdjust="spacing">Sorafenib 8 µM</text>
<text x="395.34" y="212.9" font-size="7" text-anchor="start" fill="#000" textLength="46.55" lengthAdjust="spacing">LZX-2-73 6 µM</text>
<text x="395.58" y="224.1" font-size="7" text-anchor="start" fill="#000" textLength="53.66" lengthAdjust="spacing">Sorafenib 8 µM +</text>
<text x="395.34" y="231.9" font-size="7" text-anchor="start" fill="#000" textLength="46.55" lengthAdjust="spacing">LZX-2-73 6 µM</text>
<rect x="618.55" y="186.3" width="7.8" height="4.4" fill="#808080" stroke="#2a2a2a" stroke-width="0.9"/>
<rect x="618.55" y="197.5" width="7.8" height="4.4" fill="#FFBF80" stroke="#2a2a2a" stroke-width="0.9"/>
<rect x="618.55" y="208.7" width="7.8" height="4.4" fill="#BFBF00" stroke="#2a2a2a" stroke-width="0.9"/>
<rect x="618.55" y="223.8" width="7.8" height="4.4" fill="#F44242" stroke="#2a2a2a" stroke-width="0.9"/>
<text x="631.55" y="190.7" font-size="7" text-anchor="start" fill="#000" textLength="23.03" lengthAdjust="spacing">Control</text>
<text x="631.58" y="201.6" font-size="7" text-anchor="start" fill="#000" textLength="47.79" lengthAdjust="spacing">Sorafenib 4 µM</text>
<text x="631.34" y="212.9" font-size="7" text-anchor="start" fill="#000" textLength="46.55" lengthAdjust="spacing">LZX-2-73 4 µM</text>
<text x="631.58" y="224.1" font-size="7" text-anchor="start" fill="#000" textLength="53.66" lengthAdjust="spacing">Sorafenib 4 µM +</text>
<text x="631.34" y="231.9" font-size="7" text-anchor="start" fill="#000" textLength="46.55" lengthAdjust="spacing">LZX-2-73 4 µM</text>
<line x1="47.6" y1="379" x2="47.6" y2="516" stroke="#333" stroke-width="1"/>
<line x1="42.4" y1="470.2" x2="47.6" y2="470.2" stroke="#333" stroke-width="1"/>
<line x1="42.4" y1="425.1" x2="47.6" y2="425.1" stroke="#333" stroke-width="1"/>
<line x1="42.4" y1="379" x2="47.6" y2="379" stroke="#333" stroke-width="1"/>
<text x="35.4" y="519.65" font-size="9.8" text-anchor="start" fill="#000">0</text>
<text x="29.96" y="474.05" font-size="9.8" text-anchor="start" fill="#000">50</text>
<text x="24.53" y="428.55" font-size="9.8" text-anchor="start" fill="#000">100</text>
<text x="24.53" y="382.95" font-size="9.8" text-anchor="start" fill="#000">150</text>
<text x="15.9" y="478.3" font-size="10" text-anchor="start" fill="#000" transform="rotate(-90 15.9 478.3)" textLength="61.63" lengthAdjust="spacing">Live Cells (%)</text>
<line x1="43.6" y1="502.4" x2="398" y2="502.4" stroke="#222" stroke-width="1.15" stroke-dasharray="1.2 2.55"/>
<line x1="57.95" y1="425" x2="57.95" y2="424.4" stroke="#2a2a2a" stroke-width="1"/>
<line x1="55.45" y1="424.4" x2="60.45" y2="424.4" stroke="#2a2a2a" stroke-width="1"/>
<rect x="53.45" y="425.5" width="9" height="90.5" fill="#808080" stroke="#2a2a2a" stroke-width="1"/>
<line x1="73.3" y1="456.7" x2="73.3" y2="452.7" stroke="#2a2a2a" stroke-width="1"/>
<line x1="70.8" y1="452.7" x2="75.8" y2="452.7" stroke="#2a2a2a" stroke-width="1"/>
<rect x="68.8" y="457.2" width="9" height="58.8" fill="#F2B57C" stroke="#2a2a2a" stroke-width="1"/>
<line x1="88.65" y1="435.7" x2="88.65" y2="434.5" stroke="#2a2a2a" stroke-width="1"/>
<line x1="86.15" y1="434.5" x2="91.15" y2="434.5" stroke="#2a2a2a" stroke-width="1"/>
<rect x="84.15" y="436.2" width="9" height="79.8" fill="#BFBF00" stroke="#2a2a2a" stroke-width="1"/>
<line x1="104" y1="502.3" x2="104" y2="501.6" stroke="#2a2a2a" stroke-width="1"/>
<line x1="101.5" y1="501.6" x2="106.5" y2="501.6" stroke="#2a2a2a" stroke-width="1"/>
<rect x="99.5" y="502.8" width="9" height="13.2" fill="#F44242" stroke="#2a2a2a" stroke-width="1"/>
<line x1="129.45" y1="429.2" x2="129.45" y2="425.5" stroke="#2a2a2a" stroke-width="1"/>
<line x1="126.95" y1="425.5" x2="131.95" y2="425.5" stroke="#2a2a2a" stroke-width="1"/>
<rect x="124.95" y="429.7" width="9" height="86.3" fill="#808080" stroke="#2a2a2a" stroke-width="1"/>
<line x1="144.8" y1="452.7" x2="144.8" y2="450.1" stroke="#2a2a2a" stroke-width="1"/>
<line x1="142.3" y1="450.1" x2="147.3" y2="450.1" stroke="#2a2a2a" stroke-width="1"/>
<rect x="140.3" y="453.2" width="9" height="62.8" fill="#F2B57C" stroke="#2a2a2a" stroke-width="1"/>
<line x1="160.15" y1="436.4" x2="160.15" y2="433.7" stroke="#2a2a2a" stroke-width="1"/>
<line x1="157.65" y1="433.7" x2="162.65" y2="433.7" stroke="#2a2a2a" stroke-width="1"/>
<rect x="155.65" y="436.9" width="9" height="79.1" fill="#BFBF00" stroke="#2a2a2a" stroke-width="1"/>
<line x1="175.5" y1="495" x2="175.5" y2="493" stroke="#2a2a2a" stroke-width="1"/>
<line x1="173" y1="493" x2="178" y2="493" stroke="#2a2a2a" stroke-width="1"/>
<rect x="171" y="495.5" width="9" height="20.5" fill="#F44242" stroke="#2a2a2a" stroke-width="1"/>
<line x1="200.95" y1="422.1" x2="200.95" y2="420" stroke="#2a2a2a" stroke-width="1"/>
<line x1="198.45" y1="420" x2="203.45" y2="420" stroke="#2a2a2a" stroke-width="1"/>
<rect x="196.45" y="422.6" width="9" height="93.4" fill="#808080" stroke="#2a2a2a" stroke-width="1"/>
<line x1="216.3" y1="452.5" x2="216.3" y2="449" stroke="#2a2a2a" stroke-width="1"/>
<line x1="213.8" y1="449" x2="218.8" y2="449" stroke="#2a2a2a" stroke-width="1"/>
<rect x="211.8" y="453" width="9" height="63" fill="#F2B57C" stroke="#2a2a2a" stroke-width="1"/>
<line x1="231.65" y1="431.7" x2="231.65" y2="429.2" stroke="#2a2a2a" stroke-width="1"/>
<line x1="229.15" y1="429.2" x2="234.15" y2="429.2" stroke="#2a2a2a" stroke-width="1"/>
<rect x="227.15" y="432.2" width="9" height="83.8" fill="#BFBF00" stroke="#2a2a2a" stroke-width="1"/>
<line x1="247" y1="485.7" x2="247" y2="481.2" stroke="#2a2a2a" stroke-width="1"/>
<line x1="244.5" y1="481.2" x2="249.5" y2="481.2" stroke="#2a2a2a" stroke-width="1"/>
<rect x="242.5" y="486.2" width="9" height="29.8" fill="#F44242" stroke="#2a2a2a" stroke-width="1"/>
<line x1="272.45" y1="434.3" x2="272.45" y2="427.3" stroke="#2a2a2a" stroke-width="1"/>
<line x1="269.95" y1="427.3" x2="274.95" y2="427.3" stroke="#2a2a2a" stroke-width="1"/>
<rect x="267.95" y="434.8" width="9" height="81.2" fill="#808080" stroke="#2a2a2a" stroke-width="1"/>
<line x1="287.8" y1="440.5" x2="287.8" y2="439.4" stroke="#2a2a2a" stroke-width="1"/>
<line x1="285.3" y1="439.4" x2="290.3" y2="439.4" stroke="#2a2a2a" stroke-width="1"/>
<rect x="283.3" y="441" width="9" height="75" fill="#F2B57C" stroke="#2a2a2a" stroke-width="1"/>
<line x1="303.15" y1="438" x2="303.15" y2="432.3" stroke="#2a2a2a" stroke-width="1"/>
<line x1="300.65" y1="432.3" x2="305.65" y2="432.3" stroke="#2a2a2a" stroke-width="1"/>
<rect x="298.65" y="438.5" width="9" height="77.5" fill="#BFBF00" stroke="#2a2a2a" stroke-width="1"/>
<line x1="318.5" y1="475.2" x2="318.5" y2="470.2" stroke="#2a2a2a" stroke-width="1"/>
<line x1="316" y1="470.2" x2="321" y2="470.2" stroke="#2a2a2a" stroke-width="1"/>
<rect x="314" y="475.7" width="9" height="40.3" fill="#F44242" stroke="#2a2a2a" stroke-width="1"/>
<line x1="343.95" y1="426.1" x2="343.95" y2="422.3" stroke="#2a2a2a" stroke-width="1"/>
<line x1="341.45" y1="422.3" x2="346.45" y2="422.3" stroke="#2a2a2a" stroke-width="1"/>
<rect x="339.45" y="426.6" width="9" height="89.4" fill="#808080" stroke="#2a2a2a" stroke-width="1"/>
<line x1="359.3" y1="453.4" x2="359.3" y2="449.1" stroke="#2a2a2a" stroke-width="1"/>
<line x1="356.8" y1="449.1" x2="361.8" y2="449.1" stroke="#2a2a2a" stroke-width="1"/>
<rect x="354.8" y="453.9" width="9" height="62.1" fill="#F2B57C" stroke="#2a2a2a" stroke-width="1"/>
<line x1="374.65" y1="432.3" x2="374.65" y2="430.3" stroke="#2a2a2a" stroke-width="1"/>
<line x1="372.15" y1="430.3" x2="377.15" y2="430.3" stroke="#2a2a2a" stroke-width="1"/>
<rect x="370.15" y="432.8" width="9" height="83.2" fill="#BFBF00" stroke="#2a2a2a" stroke-width="1"/>
<line x1="390" y1="490.6" x2="390" y2="484.3" stroke="#2a2a2a" stroke-width="1"/>
<line x1="387.5" y1="484.3" x2="392.5" y2="484.3" stroke="#2a2a2a" stroke-width="1"/>
<rect x="385.5" y="491.1" width="9" height="24.9" fill="#F44242" stroke="#2a2a2a" stroke-width="1"/>
<line x1="42.4" y1="516" x2="400" y2="516" stroke="#8a8a8a" stroke-width="1.3"/>
<text x="65.46" y="530.5" font-size="8.7" text-anchor="start" fill="#000" textLength="28.19" lengthAdjust="spacing">Vehicle</text>
<text x="128.9" y="530.5" font-size="8.7" text-anchor="start" fill="#000" textLength="46.7" lengthAdjust="spacing">Fer-1 20 µM</text>
<text x="189.64" y="530.5" font-size="8.7" text-anchor="start" fill="#000" textLength="69.37" lengthAdjust="spacing">Z-VAD-FMK 5 µM</text>
<text x="270.4" y="530.5" font-size="8.7" text-anchor="start" fill="#000" textLength="50.03" lengthAdjust="spacing">NAC 100 µM</text>
<text x="344.2" y="530.5" font-size="8.7" text-anchor="start" fill="#000" textLength="45.82" lengthAdjust="spacing">Nec-1 2 µM</text>
<path d="M104 337.3V317.4H390V475.7" stroke="#111" stroke-width="1.3" fill="none" stroke-linejoin="miter" stroke-linecap="butt"/>
<path d="M104 366.5V346.3H318.5V461.6" stroke="#111" stroke-width="1.3" fill="none" stroke-linejoin="miter" stroke-linecap="butt"/>
<path d="M104 395.1V375.3H247V473" stroke="#111" stroke-width="1.3" fill="none" stroke-linejoin="miter" stroke-linecap="butt"/>
<path d="M104 493V404.4H175.5V484.8" stroke="#111" stroke-width="1.3" fill="none" stroke-linejoin="miter" stroke-linecap="butt"/>
<text x="240.53" y="310.8" font-size="11.8" text-anchor="start" fill="#000" textLength="12.19" lengthAdjust="spacing">ns</text>
<text x="133.13" y="397.8" font-size="11.8" text-anchor="start" fill="#000" textLength="12.39" lengthAdjust="spacing">ns</text>
<path d="M199.12 334.4L199.12 340.6M196.44 335.95L201.81 339.05M196.44 339.05L201.81 335.95" stroke="#000" stroke-width="1.5" fill="none"/>
<path d="M207.57 334.4L207.57 340.6M204.89 335.95L210.26 339.05M204.89 339.05L210.26 335.95" stroke="#000" stroke-width="1.5" fill="none"/>
<path d="M216.03 334.4L216.03 340.6M213.34 335.95L218.71 339.05M213.34 339.05L218.71 335.95" stroke="#000" stroke-width="1.5" fill="none"/>
<path d="M224.47 334.4L224.47 340.6M221.79 335.95L227.16 339.05M221.79 339.05L227.16 335.95" stroke="#000" stroke-width="1.5" fill="none"/>
<path d="M171.28 363.7L171.28 369.9M168.59 365.25L173.96 368.35M168.59 368.35L173.96 365.25" stroke="#000" stroke-width="1.5" fill="none"/>
<path d="M179.72 363.7L179.72 369.9M177.04 365.25L182.41 368.35M177.04 368.35L182.41 365.25" stroke="#000" stroke-width="1.5" fill="none"/>
<rect x="413.75" y="385.4" width="13.8" height="7.3" fill="#808080" stroke="#2a2a2a" stroke-width="0.9"/>
<rect x="413.75" y="403.25" width="13.8" height="7.3" fill="#F2B57C" stroke="#2a2a2a" stroke-width="0.9"/>
<rect x="413.75" y="421.95" width="13.8" height="7.3" fill="#BFBF00" stroke="#2a2a2a" stroke-width="0.9"/>
<rect x="413.75" y="446.95" width="13.8" height="7.3" fill="#F44242" stroke="#2a2a2a" stroke-width="0.9"/>
<text x="436.13" y="392.8" font-size="11.3" text-anchor="start" fill="#1a1a1a" textLength="36.04" lengthAdjust="spacing">Control</text>
<text x="436.19" y="410.7" font-size="11.3" text-anchor="start" fill="#1a1a1a" textLength="76.93" lengthAdjust="spacing">Sorafenib 6 µM</text>
<text x="435.8" y="429.6" font-size="11.3" text-anchor="start" fill="#1a1a1a" textLength="75.26" lengthAdjust="spacing">LZX-2-73 6 µM</text>
<text x="436.19" y="447.4" font-size="11.3" text-anchor="start" fill="#1a1a1a" textLength="87.16" lengthAdjust="spacing">Sorafenib 6 µM +</text>
<text x="435.8" y="460" font-size="11.3" text-anchor="start" fill="#1a1a1a" textLength="75.26" lengthAdjust="spacing">LZX-2-73 6 µM</text>
<text x="9.95" y="583.6" font-size="12.25" text-anchor="start" fill="#000" textLength="83.16" lengthAdjust="spacing">Sorafenib 6 µM</text>
<text x="10.92" y="605.4" font-size="12.25" text-anchor="start" fill="#000" textLength="82.22" lengthAdjust="spacing">LZX-2-73 6 µM</text>
<line x1="123.3" y1="579.8" x2="126.7" y2="579.8" stroke="#111" stroke-width="1.1"/>
<line x1="158.1" y1="579.3" x2="163.9" y2="579.3" stroke="#111" stroke-width="1.1"/>
<line x1="161" y1="576.4" x2="161" y2="582.2" stroke="#111" stroke-width="1.1"/>
<line x1="188.4" y1="579.8" x2="191.8" y2="579.8" stroke="#111" stroke-width="1.1"/>
<line x1="222.9" y1="579.3" x2="228.7" y2="579.3" stroke="#111" stroke-width="1.1"/>
<line x1="225.8" y1="576.4" x2="225.8" y2="582.2" stroke="#111" stroke-width="1.1"/>
<line x1="123.3" y1="602" x2="126.7" y2="602" stroke="#111" stroke-width="1.1"/>
<line x1="157.5" y1="602" x2="160.9" y2="602" stroke="#111" stroke-width="1.1"/>
<line x1="185.9" y1="601.2" x2="191.7" y2="601.2" stroke="#111" stroke-width="1.1"/>
<line x1="188.8" y1="598.3" x2="188.8" y2="604.1" stroke="#111" stroke-width="1.1"/>
<line x1="222.9" y1="601.2" x2="228.7" y2="601.2" stroke="#111" stroke-width="1.1"/>
<line x1="225.8" y1="598.3" x2="225.8" y2="604.1" stroke="#111" stroke-width="1.1"/>
<rect x="81.3" y="626.2" width="12" height="8" fill="#ececec" filter="url(#blur2)"/>
<rect x="81.5" y="627.5" width="11.6" height="3.2" fill="#b4b4b4" filter="url(#blur1)"/>
<rect x="81.3" y="638.8" width="11" height="6" fill="#f0f0f0" filter="url(#blur2)"/>
<rect x="81.5" y="640.1" width="10.8" height="2.4" fill="#cdcdcd" filter="url(#blur1)"/>
<rect x="81.3" y="663" width="11" height="6.5" fill="#eeeeee" filter="url(#blur2)"/>
<rect x="81.5" y="664.5" width="10.6" height="2.8" fill="#c8c8c8" filter="url(#blur1)"/>
<rect x="97.3" y="653.5" width="37.7" height="14" rx="7" fill="#ececec" filter="url(#blur3)" transform="rotate(-0.34 116.15 660.5)"/>
<rect x="97.1" y="654.25" width="38.1" height="12.5" rx="6.25" fill="none" stroke="#d6d6d6" stroke-width="1.3" filter="url(#blur1)" transform="rotate(-0.34 116.15 660.5)"/>
<rect x="98.5" y="656" width="35.3" height="8" rx="4" fill="#a4a4a4" filter="url(#blur2)" transform="rotate(-0.34 116.15 660.5)"/>
<rect x="100.1" y="658.8" width="32.1" height="3.4" rx="1.7" fill="#646464" filter="url(#blur1)" transform="rotate(-0.34 116.15 660.5)"/>
<rect x="136.11" y="652.05" width="33.98" height="14" rx="7" fill="#ececec" filter="url(#blur3)" transform="rotate(-6.32 153.1 659.05)"/>
<rect x="135.91" y="652.8" width="34.38" height="12.5" rx="6.25" fill="none" stroke="#d6d6d6" stroke-width="1.3" filter="url(#blur1)" transform="rotate(-6.32 153.1 659.05)"/>
<rect x="137.31" y="654.55" width="31.58" height="8" rx="4" fill="#a4a4a4" filter="url(#blur2)" transform="rotate(-6.32 153.1 659.05)"/>
<rect x="138.91" y="657.35" width="28.38" height="3.4" rx="1.7" fill="#626262" filter="url(#blur1)" transform="rotate(-6.32 153.1 659.05)"/>
<rect x="171.47" y="650.35" width="32.96" height="11.5" rx="5.75" fill="#f0f0f0" filter="url(#blur3)" transform="rotate(-3.56 187.95 656.1)"/>
<rect x="171.67" y="651.1" width="32.56" height="10" rx="5" fill="none" stroke="#e0e0e0" stroke-width="1.2" filter="url(#blur1)" transform="rotate(-3.56 187.95 656.1)"/>
<rect x="172.67" y="652.85" width="30.56" height="6.5" rx="3.25" fill="#cbcbcb" filter="url(#blur2)" transform="rotate(-3.56 187.95 656.1)"/>
<rect x="174.27" y="654.9" width="27.36" height="2.4" rx="1.2" fill="#a6a6a6" filter="url(#blur1)" transform="rotate(-3.56 187.95 656.1)"/>
<rect x="205.44" y="648.1" width="34.42" height="10.5" rx="5.25" fill="#f3f3f3" filter="url(#blur3)" transform="rotate(-5.09 222.65 653.35)"/>
<rect x="205.84" y="648.85" width="33.62" height="9" rx="4.5" fill="none" stroke="#e4e4e4" stroke-width="1.1" filter="url(#blur1)" transform="rotate(-5.09 222.65 653.35)"/>
<rect x="206.64" y="650.6" width="32.02" height="5.5" rx="2.75" fill="#dcdcdc" filter="url(#blur2)" transform="rotate(-5.09 222.65 653.35)"/>
<rect x="208.24" y="652.35" width="28.82" height="2" rx="1" fill="#c6c6c6" filter="url(#blur1)" transform="rotate(-5.09 222.65 653.35)"/>
<rect x="79.9" y="624.7" width="167.6" height="53.4" fill="none" stroke="#333" stroke-width="1.5"/>
<rect x="79.5" y="684.4" width="168" height="44.6" fill="#ededed"/>
<rect x="96.7" y="705" width="29" height="3.6" rx="1.8" fill="#c8c8c8" filter="url(#blur2)" transform="rotate(0 111.2 706.8)"/>
<rect x="95.1" y="699.6" width="32.2" height="6.8" rx="1.2" fill="#a0a0a0" filter="url(#blur2)" transform="rotate(0 111.2 703)"/>
<rect x="96.7" y="700.9" width="29" height="4.2" rx="1.2" fill="#4e4e4e" filter="url(#blur1)" transform="rotate(0 111.2 703)"/>
<rect x="132.8" y="705.5" width="28.9" height="3.6" rx="1.8" fill="#c8c8c8" filter="url(#blur2)" transform="rotate(-0.38 147.25 707.3)"/>
<rect x="131.2" y="700.1" width="32.1" height="6.8" rx="1.2" fill="#a0a0a0" filter="url(#blur2)" transform="rotate(-0.38 147.25 703.5)"/>
<rect x="132.8" y="701.4" width="28.9" height="4.2" rx="1.2" fill="#4e4e4e" filter="url(#blur1)" transform="rotate(-0.38 147.25 703.5)"/>
<rect x="169.29" y="704.6" width="26.72" height="3.6" rx="1.8" fill="#c8c8c8" filter="url(#blur2)" transform="rotate(-2.02 182.65 706.4)"/>
<rect x="167.69" y="699.2" width="29.92" height="6.8" rx="1.2" fill="#a0a0a0" filter="url(#blur2)" transform="rotate(-2.02 182.65 702.6)"/>
<rect x="169.29" y="700.5" width="26.72" height="4.2" rx="1.2" fill="#4e4e4e" filter="url(#blur1)" transform="rotate(-2.02 182.65 702.6)"/>
<rect x="203.09" y="703.65" width="28.11" height="3.6" rx="1.8" fill="#c8c8c8" filter="url(#blur2)" transform="rotate(-1.74 217.15 705.45)"/>
<rect x="201.49" y="698.25" width="31.31" height="6.8" rx="1.2" fill="#a0a0a0" filter="url(#blur2)" transform="rotate(-1.74 217.15 701.65)"/>
<rect x="203.09" y="699.55" width="28.11" height="4.2" rx="1.2" fill="#4e4e4e" filter="url(#blur1)" transform="rotate(-1.74 217.15 701.65)"/>
<rect x="79.5" y="684.4" width="168" height="44.6" fill="#000" filter="url(#noise)" opacity="0.085"/>
<rect x="79.9" y="684.6" width="167.6" height="44.3" fill="none" stroke="#333" stroke-width="1.5"/>
<text x="49.96" y="631.1" font-size="6.8" text-anchor="start" fill="#000" textLength="21.46" lengthAdjust="spacing" xml:space="preserve">25 kDa</text>
<text x="49.96" y="644" font-size="6.8" text-anchor="start" fill="#000" textLength="21.46" lengthAdjust="spacing" xml:space="preserve">20 kDa</text>
<text x="50.49" y="665.2" font-size="6.8" text-anchor="start" fill="#000" textLength="20.93" lengthAdjust="spacing" xml:space="preserve">15 kDa</text>
<text x="52.53" y="691.9" font-size="6.8" text-anchor="start" fill="#000" textLength="20.6" lengthAdjust="spacing" xml:space="preserve">50 kDa</text>
<text x="51.46" y="717.9" font-size="6.8" text-anchor="start" fill="#000" textLength="22.55" lengthAdjust="spacing" xml:space="preserve">37  kDa</text>
<text x="256.21" y="654" font-size="10.9" text-anchor="start" fill="#000" textLength="38.76" lengthAdjust="spacing">Survivin</text>
<text x="256.7" y="710.7" font-size="10.9" text-anchor="start" fill="#000" textLength="29.17" lengthAdjust="spacing">ACTB</text>
<line x1="345.2" y1="642.2" x2="345.2" y2="730.6" stroke="#8a8a8a" stroke-width="1"/>
<line x1="341.8" y1="730.6" x2="345.2" y2="730.6" stroke="#8a8a8a" stroke-width="1"/>
<text x="331.65" y="733.05" font-size="6.9" text-anchor="start" fill="#000">0.0</text>
<line x1="341.8" y1="701.5" x2="345.2" y2="701.5" stroke="#8a8a8a" stroke-width="1"/>
<text x="331.69" y="703.95" font-size="6.9" text-anchor="start" fill="#000">0.5</text>
<line x1="341.8" y1="672" x2="345.2" y2="672" stroke="#8a8a8a" stroke-width="1"/>
<text x="331.65" y="674.45" font-size="6.9" text-anchor="start" fill="#000">1.0</text>
<line x1="341.8" y1="642.4" x2="345.2" y2="642.4" stroke="#8a8a8a" stroke-width="1"/>
<text x="331.69" y="644.85" font-size="6.9" text-anchor="start" fill="#000">1.5</text>
<rect x="352.55" y="672.65" width="12.8" height="57.95" fill="#808080" stroke="#2a2a2a" stroke-width="0.9"/>
<line x1="378.95" y1="685.8" x2="378.95" y2="679.5" stroke="#2a2a2a" stroke-width="0.9"/>
<line x1="375.7" y1="679.5" x2="382.2" y2="679.5" stroke="#2a2a2a" stroke-width="0.9"/>
<rect x="372.85" y="686.25" width="12.2" height="44.35" fill="#FFBF80" stroke="#2a2a2a" stroke-width="0.9"/>
<line x1="399.1" y1="700.1" x2="399.1" y2="691.3" stroke="#2a2a2a" stroke-width="0.9"/>
<line x1="395.85" y1="691.3" x2="402.35" y2="691.3" stroke="#2a2a2a" stroke-width="0.9"/>
<rect x="392.95" y="700.55" width="12.3" height="30.05" fill="#BFBF00" stroke="#2a2a2a" stroke-width="0.9"/>
<line x1="419.1" y1="708.1" x2="419.1" y2="703.2" stroke="#2a2a2a" stroke-width="0.9"/>
<line x1="415.85" y1="703.2" x2="422.35" y2="703.2" stroke="#2a2a2a" stroke-width="0.9"/>
<rect x="412.85" y="708.55" width="12.5" height="22.05" fill="#F44242" stroke="#2a2a2a" stroke-width="0.9"/>
<line x1="345.2" y1="730.6" x2="432.8" y2="730.6" stroke="#8a8a8a" stroke-width="1"/>
<line x1="358.95" y1="730.6" x2="358.95" y2="734.2" stroke="#8a8a8a" stroke-width="1"/>
<line x1="378.95" y1="730.6" x2="378.95" y2="734.2" stroke="#8a8a8a" stroke-width="1"/>
<line x1="399.1" y1="730.6" x2="399.1" y2="734.2" stroke="#8a8a8a" stroke-width="1"/>
<line x1="419.1" y1="730.6" x2="419.1" y2="734.2" stroke="#8a8a8a" stroke-width="1"/>
<text x="326.8" y="743.29" font-size="8.6" text-anchor="start" fill="#000" transform="rotate(-90 326.8 743.29)" textLength="113.37" lengthAdjust="spacing">Relative Survivin protein level</text>
<path d="M358.5 618.5V605.5H419.3V637.4" stroke="#3a3a3a" stroke-width="1" fill="none" stroke-linejoin="miter" stroke-linecap="butt"/>
<path d="M358.5 656.4V624.6H399.1V629.1" stroke="#3a3a3a" stroke-width="1" fill="none" stroke-linejoin="miter" stroke-linecap="butt"/>
<path d="M378.6 656.2V643H419V655.7" stroke="#3a3a3a" stroke-width="1" fill="none" stroke-linejoin="miter" stroke-linecap="butt"/>
<path d="M358.5 666.2V661.5H377.2V674.4" stroke="#3a3a3a" stroke-width="1" fill="none" stroke-linejoin="miter" stroke-linecap="butt"/>
<path d="M380.4 674.4V661.5H397.2V686.5" stroke="#3a3a3a" stroke-width="1" fill="none" stroke-linejoin="miter" stroke-linecap="butt"/>
<path d="M400.6 686.5V661.5H419.3V697.5" stroke="#3a3a3a" stroke-width="1" fill="none" stroke-linejoin="miter" stroke-linecap="butt"/>
<path d="M386.4 598.4L386.4 601.8M384.93 599.25L387.87 600.95M384.93 600.95L387.87 599.25" stroke="#000" stroke-width="1.1" fill="none"/>
<path d="M391.6 598.4L391.6 601.8M390.13 599.25L393.07 600.95M390.13 600.95L393.07 599.25" stroke="#000" stroke-width="1.1" fill="none"/>
<path d="M379 616.8L379 620.2M377.53 617.65L380.47 619.35M377.53 619.35L380.47 617.65" stroke="#000" stroke-width="1.1" fill="none"/>
<text x="394.49" y="638.8" font-size="7.8" text-anchor="start" fill="#000" textLength="8.29" lengthAdjust="spacing">ns</text>
<text x="363.39" y="657" font-size="7.8" text-anchor="start" fill="#000" textLength="8.49" lengthAdjust="spacing">ns</text>
<text x="384.49" y="657" font-size="7.8" text-anchor="start" fill="#000" textLength="8.49" lengthAdjust="spacing">ns</text>
<text x="405.49" y="657" font-size="7.8" text-anchor="start" fill="#000" textLength="8.49" lengthAdjust="spacing">ns</text>
<rect x="453.05" y="646.4" width="8.7" height="4.4" fill="#808080" stroke="#2a2a2a" stroke-width="0.9"/>
<rect x="453.05" y="657.9" width="8.7" height="4.4" fill="#FFBF80" stroke="#2a2a2a" stroke-width="0.9"/>
<rect x="453.05" y="669.7" width="8.7" height="4.4" fill="#BFBF00" stroke="#2a2a2a" stroke-width="0.9"/>
<rect x="453.05" y="685.1" width="8.7" height="4.4" fill="#F44242" stroke="#2a2a2a" stroke-width="0.9"/>
<text x="467.43" y="651.1" font-size="7.4" text-anchor="start" fill="#000" textLength="24.18" lengthAdjust="spacing">Control</text>
<text x="467.47" y="662.6" font-size="7.4" text-anchor="start" fill="#000" textLength="50.24" lengthAdjust="spacing">Sorafenib 6 µM</text>
<text x="467.21" y="674.3" font-size="7.4" text-anchor="start" fill="#000" textLength="49.82" lengthAdjust="spacing">LZX-2-73 6 µM</text>
<text x="467.47" y="685.7" font-size="7.4" text-anchor="start" fill="#000" textLength="50.24" lengthAdjust="spacing">Sorafenib 6 µM</text>
<text x="467.43" y="694.4" font-size="7.4" text-anchor="start" fill="#000" textLength="55.37" lengthAdjust="spacing">+ LZX-2-73 6 µM</text>
</svg>
</body></html>
